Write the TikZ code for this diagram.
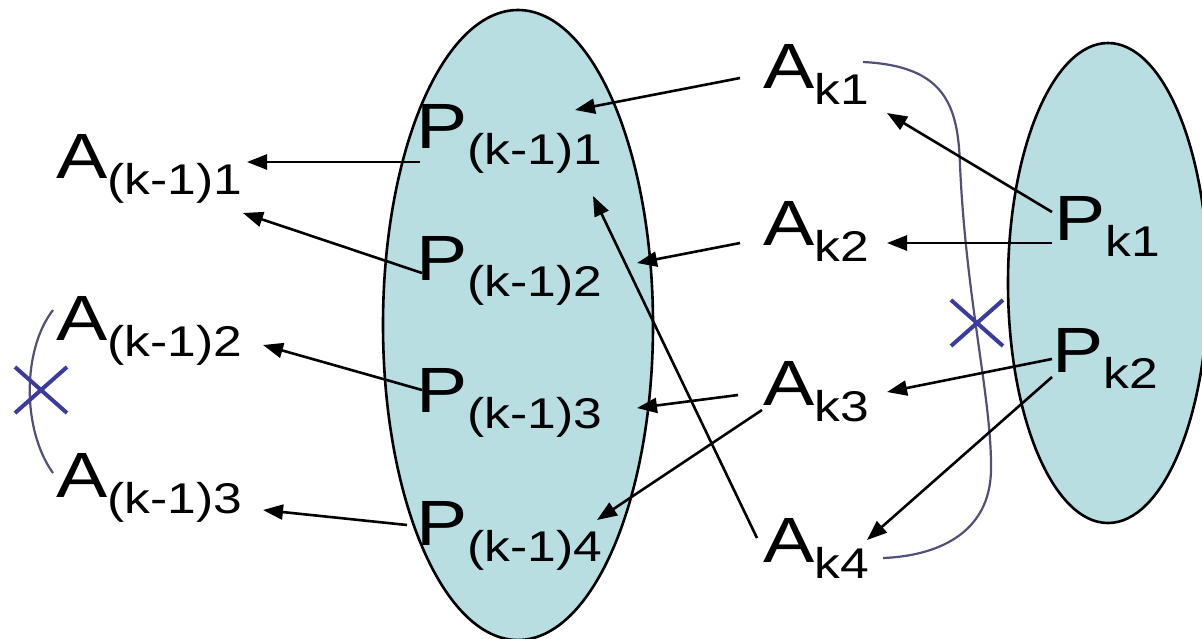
\documentclass[tikz,border=0pt]{standalone}
\usepackage{fontspec}
\setmainfont[FakeStretch=1.2]{Liberation Sans}
\usetikzlibrary{arrows.meta}
\definecolor{ellfill}{RGB}{184,222,226}
\definecolor{brk}{RGB}{80,80,120}
\definecolor{xmark}{RGB}{60,60,156}
\newcommand\lbl[2]{#1\raisebox{-16pt}{\fontsize{43}{43}\selectfont #2}}
\begin{document}
\begin{tikzpicture}[x=1pt,y=-1pt,
  lab/.style={anchor=base west,inner sep=0pt,font=\fontsize{64}{70}\selectfont},
  ell/.style={draw=black,line width=2.6pt,fill=ellfill},
  arr/.style={line width=2.6pt,-{Triangle[length=20pt,width=15pt]}},
  brack/.style={draw=brk,line width=2.2pt},
  xm/.style={draw=xmark,line width=4pt}]
\useasboundingbox (0,0) rectangle (1202,638);
\fill[white] (0,0) rectangle (1202,638);
% ellipses
\draw[ell] (518,325) ellipse [x radius=135, y radius=315];
\draw[ell] (1108,283) ellipse [x radius=100, y radius=240];
% brackets
\draw[brack] (863,62) .. controls (945,66) and (958,105) .. (960,165)
  .. controls (966,300) and (992,400) .. (991,470)
  .. controls (990,535) and (935,556) .. (883,558);
\draw[brack] (53,310) .. controls (22,350) and (22,430) .. (53,473);
% labels
\node[lab] (a1) at (56,178) {\lbl{A}{(k-1)1}};
\node[lab] (a2) at (56,340) {\lbl{A}{(k-1)2}};
\node[lab] (a3) at (56,497) {\lbl{A}{(k-1)3}};
\node[lab] (p1) at (416,148) {\lbl{P}{(k-1)1}};
\node[lab] (p2) at (416,280) {\lbl{P}{(k-1)2}};
\node[lab] (p3) at (416,412) {\lbl{P}{(k-1)3}};
\node[lab] (p4) at (416,545) {\lbl{P}{(k-1)4}};
\node[lab] (b1) at (763,88) {\lbl{A}{k1}};
\node[lab] (b2) at (763,245) {\lbl{A}{k2}};
\node[lab] (b3) at (763,405) {\lbl{A}{k3}};
\node[lab] (b4) at (763,562) {\lbl{A}{k4}};
\node[lab] (q1) at (1054,240) {\lbl{P}{k1}};
\node[lab] (q2) at (1052,372) {\lbl{P}{k2}};
% arrows
\draw[arr] ([shift={(4,14)}]p1.base west) -- ([shift={(191,-16)}]a1.base west);
\draw[arr] ([shift={(6,-7)}]p2.base west) -- ([shift={(187,35)}]a1.base west);
\draw[arr] ([shift={(-23,-10)}]b1.base west) -- ([shift={(159,-38)}]p1.base west);
\draw[arr] ([shift={(-23,-2)}]b2.base west) -- ([shift={(221,-17)}]p2.base west);
\draw[arr] ([shift={(-6,-24)}]b4.base west) -- ([shift={(177,48)}]p1.base west);
\draw[arr] ([shift={(6,-22)}]p3.base west) -- ([shift={(207,5)}]a2.base west);
\draw[arr] ([shift={(-9,-20)}]p4.base west) -- ([shift={(207,13)}]a3.base west);
\draw[arr] ([shift={(-25,-10)}]b3.base west) -- ([shift={(221,-4)}]p3.base west);
\draw[arr] ([shift={(-1,5)}]b3.base west) -- ([shift={(181,-25)}]p4.base west);
\draw[arr] ([shift={(-2,-28)}]q1.base west) -- ([shift={(124,25)}]b1.base west);
\draw[arr] ([shift={(-2,3)}]q1.base west) -- ([shift={(124,-2)}]b2.base west);
\draw[arr] ([shift={(0,-13)}]q2.base west) -- ([shift={(124,-13)}]b3.base west);
\draw[arr] ([shift={(0,5)}]q2.base west) -- ([shift={(104,-22)}]b4.base west);
% crosses
\draw[xm] (951,300) -- (1003,346) (951,346) -- (1003,300);
\draw[xm] (15,367) -- (67,413) (15,413) -- (67,367);
\end{tikzpicture}
\end{document}
